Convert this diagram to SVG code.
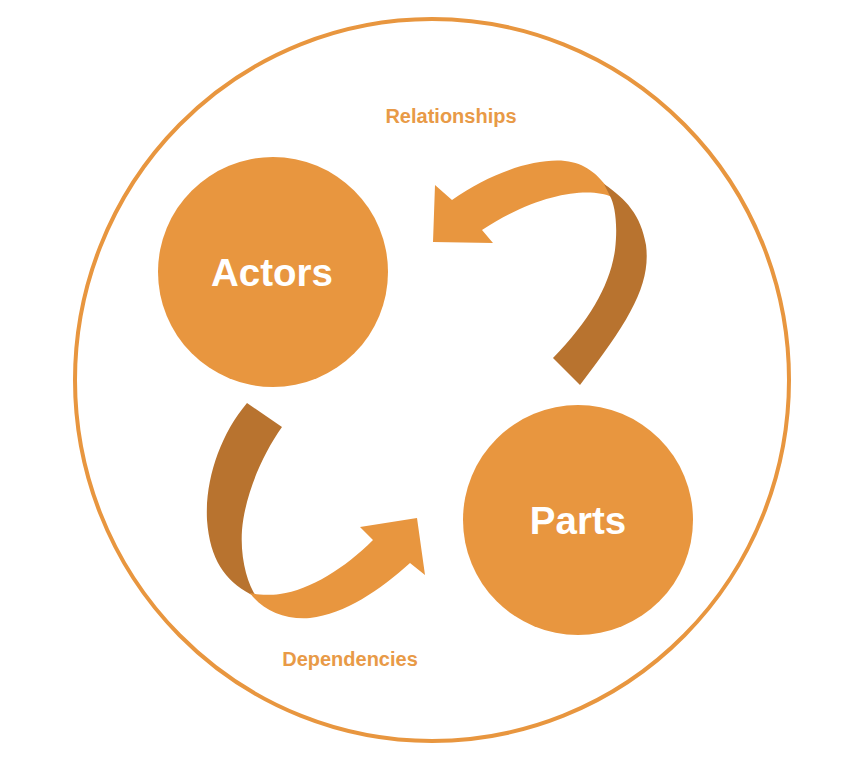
<svg xmlns="http://www.w3.org/2000/svg" width="857" height="761" viewBox="0 0 857 761">
<style>
.bg{fill:#ffffff}
.frame{fill:none;stroke:#E8963F;stroke-width:4}
.node{fill:#E8963F}
.light{fill:#E8963F}
.dark{fill:#B8732F}
.nt{font-family:"Liberation Sans",Arial,sans-serif;font-weight:bold;font-size:38.5px;fill:#ffffff;text-anchor:middle}
.lbl{font-family:"Liberation Sans",Arial,sans-serif;font-weight:bold;font-size:20px;fill:#E89A47;text-anchor:middle}
</style>
<rect class="bg" x="0" y="0" width="857" height="761"/>
<g id="frame">
<ellipse class="frame" cx="432" cy="380" rx="357" ry="361"/>
</g>
<g id="actors">
<circle class="node" cx="273" cy="272" r="115"/>
<text class="nt" x="272" y="286">Actors</text>
</g>
<g id="parts">
<circle class="node" cx="578" cy="520" r="115"/>
<text class="nt" x="578" y="534">Parts</text>
</g>
<g id="label-relationships">
<text class="lbl" x="451" y="123">Relationships</text>
</g>
<g id="label-dependencies">
<text class="lbl" x="350" y="666">Dependencies</text>
</g>
<g id="connectors">
<path class="light" d="M 433,242 L 435,185 L 452,200 C 490,173 535,158 565,161 C 585,163 597,174 607,187 L 612,197 C 590,187 540,192 482,230 L 493,243 Z"/>
<path class="dark" d="M 604,184 C 626,199 641,215 646,245 C 651,285 630,320 580,385 L 553,358 C 590,320 610,285 615,250 C 618,225 615,205 610,196 Z"/>
<path class="dark" d="M 247,403 L 282,427 C 262,455 245,495 242,530 C 240,560 248,585 257,598 L 250,594 C 225,580 210,560 207,520 C 205,480 220,435 247,403 Z"/>
<path class="light" d="M 250,593 C 262,610 285,620 310,618 C 345,614 380,590 410,563 L 425,575 L 417,518 L 360,527 L 373,540 C 345,568 310,590 280,594 C 265,596 255,594 250,593 Z"/>
</g>
</svg>
